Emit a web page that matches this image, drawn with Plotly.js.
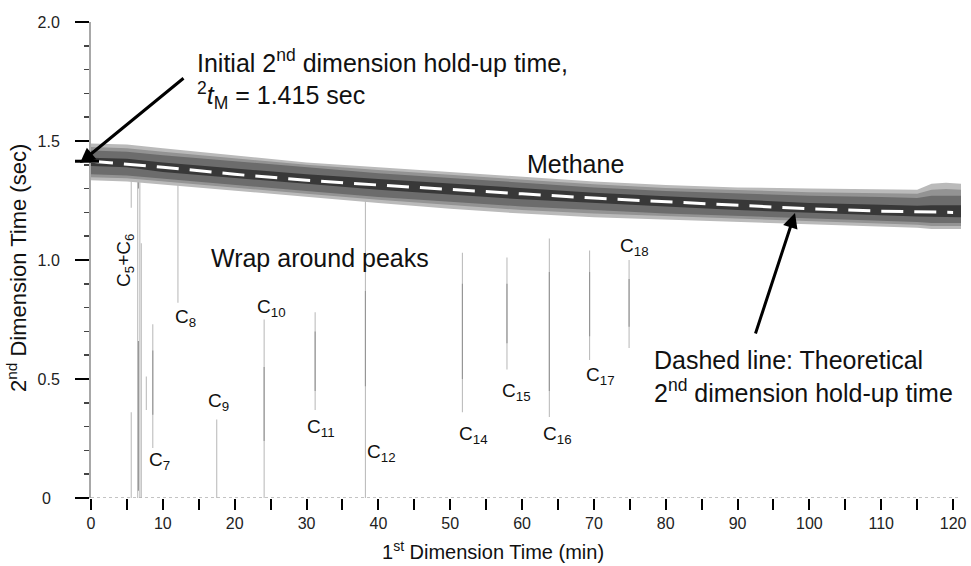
<!DOCTYPE html>
<html><head><meta charset="utf-8">
<script src="https://cdn.plot.ly/plotly-3.0.1.min.js"></script>
<style>html,body{margin:0;padding:0;background:#fff}</style>
</head><body><div id="chart" style="width:971px;height:566px"></div>
<script>
// ---- data ----
// methane band (1st dim time, min) and its boundaries (2nd dim time, sec), outer to inner
var bandX    = [0, 5, 10, 20, 30, 40, 50, 60, 70, 80, 90, 100, 110, 115, 117, 119, 121.1];
var outerTop = [1.49, 1.485, 1.47, 1.44, 1.41, 1.39, 1.37, 1.35, 1.33, 1.315, 1.305, 1.30, 1.295, 1.295, 1.32, 1.325, 1.32];
var outerBot = [1.335, 1.33, 1.315, 1.29, 1.265, 1.24, 1.215, 1.195, 1.18, 1.17, 1.16, 1.15, 1.14, 1.135, 1.13, 1.13, 1.13];
var l2Top    = [1.475, 1.47, 1.455, 1.428, 1.40, 1.378, 1.358, 1.338, 1.318, 1.303, 1.293, 1.285, 1.28, 1.278, 1.295, 1.298, 1.295];
var l2Bot    = [1.348, 1.343, 1.328, 1.303, 1.278, 1.253, 1.23, 1.21, 1.195, 1.183, 1.173, 1.163, 1.153, 1.148, 1.143, 1.143, 1.143];
var midTop   = [1.46, 1.455, 1.44, 1.415, 1.39, 1.365, 1.345, 1.325, 1.305, 1.29, 1.28, 1.27, 1.265, 1.26, 1.27, 1.27, 1.27];
var midBot   = [1.36, 1.355, 1.34, 1.315, 1.29, 1.265, 1.245, 1.225, 1.21, 1.195, 1.185, 1.175, 1.165, 1.16, 1.155, 1.155, 1.155];
var coreTop  = [1.43, 1.425, 1.41, 1.385, 1.36, 1.34, 1.32, 1.30, 1.283, 1.268, 1.253, 1.24, 1.232, 1.228, 1.23, 1.23, 1.23];
var coreBot  = [1.395, 1.39, 1.37, 1.345, 1.32, 1.295, 1.275, 1.255, 1.24, 1.225, 1.21, 1.198, 1.188, 1.183, 1.18, 1.18, 1.18];

// theoretical 2nd dimension hold-up time (dashed line)
var holdX = [0, 10, 20, 30, 40, 50, 60, 70, 80, 90, 100, 110, 120];
var holdY = [1.415, 1.39, 1.36, 1.335, 1.315, 1.295, 1.278, 1.26, 1.245, 1.23, 1.215, 1.205, 1.20];

// wrap-around peaks: position and vertical extent
var peakX      = [5.6, 5.6, 6.5, 6.8, 7.0, 7.7, 8.6, 12.1, 17.5, 24.1, 31.2, 38.2, 51.7, 57.9, 63.8, 69.4, 74.9];
var peakTop    = [0.36, 1.47, 1.47, 1.47, 1.07, 0.51, 0.73, 1.32, 0.33, 0.75, 0.78, 1.25, 1.03, 1.01, 1.09, 1.04, 1.00];
var peakBottom = [0, 1.22, 0, 0, 0, 0.37, 0.21, 0.82, 0, 0, 0.37, 0, 0.36, 0.54, 0.34, 0.58, 0.63];
// darker (more intense) parts of the peaks
var coreX      = [6.6, 6.6, 8.6, 24.1, 31.2, 38.2, 51.7, 57.9, 63.8, 69.4, 74.9];
var coreTopV   = [0.66, 1.47, 0.62, 0.55, 0.70, 0.87, 0.90, 0.90, 0.95, 0.95, 0.92];
var coreBotV   = [0.03, 1.30, 0.35, 0.24, 0.45, 0.47, 0.50, 0.65, 0.45, 0.68, 0.72];

var peakNames = ['C<sub>5</sub>+C<sub>6</sub>', 'C<sub>7</sub>', 'C<sub>8</sub>', 'C<sub>9</sub>', 'C<sub>10</sub>',
                 'C<sub>11</sub>', 'C<sub>12</sub>', 'C<sub>14</sub>', 'C<sub>15</sub>', 'C<sub>16</sub>',
                 'C<sub>17</sub>', 'C<sub>18</sub>'];

var xTicks = [0, 10, 20, 30, 40, 50, 60, 70, 80, 90, 100, 110, 120];
var yTicks = [0, 0.5, 1.0, 1.5, 2.0];
var yTickText = ['0\u2007', '0.5', '1.0', '1.5', '2.0'];
var initialHoldUp = 1.415;

// ---- build traces ----
function poly(xs, top, bot) {
  return { x: xs.concat(xs.slice().reverse()), y: top.concat(bot.slice().reverse()) };
}
function segs(xs, t, b) {
  var X = [], Y = [];
  for (var i = 0; i < xs.length; i++) { X.push(xs[i], xs[i], null); Y.push(b[i], t[i], null); }
  return { x: X, y: Y };
}
function band(p, color) {
  return { x: p.x, y: p.y, fill: 'toself', mode: 'lines', line: { width: 0 }, fillcolor: color, hoverinfo: 'skip', showlegend: false };
}
var sPeaks = segs(peakX, peakTop, peakBottom);
var sCore = segs(coreX, coreTopV, coreBotV);

var traces = [
  { x: sPeaks.x, y: sPeaks.y, mode: 'lines', line: { color: '#bdbdbd', width: 1.1 }, hoverinfo: 'skip', showlegend: false },
  { x: sCore.x, y: sCore.y, mode: 'lines', line: { color: '#959595', width: 1.1 }, hoverinfo: 'skip', showlegend: false },
  band(poly(bandX, outerTop, outerBot), '#bababa'),
  band(poly(bandX, l2Top, l2Bot), '#939393'),
  band(poly(bandX, midTop, midBot), '#6c6c6c'),
  band(poly(bandX, coreTop, coreBot), '#383838'),
  { x: holdX, y: holdY, mode: 'lines', line: { color: '#ffffff', width: 3, dash: '22px,11px' }, hoverinfo: 'skip', showlegend: false }
];

var F = 'Liberation Sans, Arial, sans-serif';
var txt = '#111111';
function lab(i, x, y, extra) {
  var a = { text: peakNames[i], x: x, y: y, xref: 'x', yref: 'y', showarrow: false,
            font: { family: F, size: 19, color: txt }, xanchor: 'center', yanchor: 'middle' };
  for (var k in extra) a[k] = extra[k];
  return a;
}
var annotations = [
  lab(0, 4.73, 1.0, { textangle: -90 }),
  lab(1, 9.6, 0.155), lab(2, 13.2, 0.756), lab(3, 17.8, 0.403), lab(4, 25.06, 0.798),
  lab(5, 32.0, 0.294), lab(6, 40.5, 0.189), lab(7, 53.3, 0.265), lab(8, 59.2, 0.445),
  lab(9, 65.0, 0.265), lab(10, 70.9, 0.513), lab(11, 75.6, 1.055),
  { text: 'Methane', x: 67.4, y: 1.403, xref: 'x', yref: 'y', showarrow: false, font: { family: F, size: 25, color: txt } },
  { text: 'Wrap around peaks', x: 31.9, y: 1.008, xref: 'x', yref: 'y', showarrow: false, font: { family: F, size: 25, color: txt } },
  { text: 'Initial 2<sup>nd</sup> dimension hold-up time,<br><sup>2</sup><i>t</i><sub>M</sub> = 1.415 sec',
    x: (195 - 91) / 870, y: (498 - 79) / 476, xref: 'paper', yref: 'paper', xanchor: 'left', yanchor: 'middle',
    align: 'left', showarrow: false, font: { family: F, size: 25, color: txt } },
  { text: 'Dashed line: Theoretical<br>2<sup>nd</sup> dimension hold-up time',
    x: (652 - 91) / 870, y: (498 - 376) / 476, xref: 'paper', yref: 'paper', xanchor: 'left', yanchor: 'middle',
    align: 'left', showarrow: false, font: { family: F, size: 25, color: txt } },
  // arrows
  { text: '', x: (80 - 91) / 870, y: (498 - 163) / 476, xref: 'paper', yref: 'paper', showarrow: true,
    ax: 105, ay: -86, arrowhead: 2, arrowsize: 1, arrowwidth: 3, arrowcolor: '#000' },
  { text: '', x: (795 - 91) / 870, y: (498 - 213) / 476, xref: 'paper', yref: 'paper', showarrow: true,
    ax: -40, ay: 122, arrowhead: 2, arrowsize: 1, arrowwidth: 3, arrowcolor: '#000' },
  // axis titles
  { text: '1<sup>st</sup> Dimension Time (min)', x: (493 - 91) / 870, y: (498 - 550) / 476, xref: 'paper', yref: 'paper',
    showarrow: false, font: { family: F, size: 20, color: txt }, yanchor: 'middle' },
  { text: '2<sup>nd</sup> Dimension Time (sec)', x: (17 - 91) / 870, y: (498 - 268) / 476, xref: 'paper', yref: 'paper',
    showarrow: false, textangle: -90, font: { family: F, size: 22, color: txt }, xanchor: 'center', yanchor: 'middle' }
];

var shapes = [
  { type: 'line', xref: 'x', yref: 'y', x0: 0, x1: 121.1, y0: 0, y1: 0, line: { color: '#b0b0b0', width: 1.5, dash: 'dot' } },
  { type: 'line', xref: 'paper', yref: 'y', x0: (75 - 91) / 870, x1: (99 - 91) / 870, y0: initialHoldUp, y1: initialHoldUp,
    line: { color: '#000', width: 3 } }
];

var layout = {
  width: 971, height: 566,
  margin: { l: 91, r: 10, t: 22, b: 68, pad: 0 },
  paper_bgcolor: '#fff', plot_bgcolor: '#fff',
  font: { family: F, color: txt },
  showlegend: false,
  xaxis: {
    range: [0, 121.1], tickvals: xTicks, ticks: 'outside', ticklen: 11, tickwidth: 2, tickcolor: '#000',
    minor: { dtick: 5, tick0: 0, ticks: 'outside', ticklen: 11, tickwidth: 2, tickcolor: '#000' },
    showline: false, showgrid: false, zeroline: false, tickfont: { family: F, size: 16, color: '#222' },
    fixedrange: true
  },
  yaxis: {
    range: [0, 2.0], tickvals: yTicks, ticktext: yTickText, ticks: 'outside', ticklen: 14, tickwidth: 2, tickcolor: '#000',
    minor: { dtick: 0.1, tick0: 0, ticks: 'outside', ticklen: 5, tickwidth: 1.5, tickcolor: '#444' },
    showline: true, linecolor: '#a8a8a8', linewidth: 2, showgrid: false, zeroline: false,
    tickfont: { family: F, size: 16, color: '#222' }, ticklabelstandoff: 12, fixedrange: true
  },
  annotations: annotations,
  shapes: shapes
};

Plotly.newPlot('chart', traces, layout, { displayModeBar: false, staticPlot: true });
</script></body></html>
